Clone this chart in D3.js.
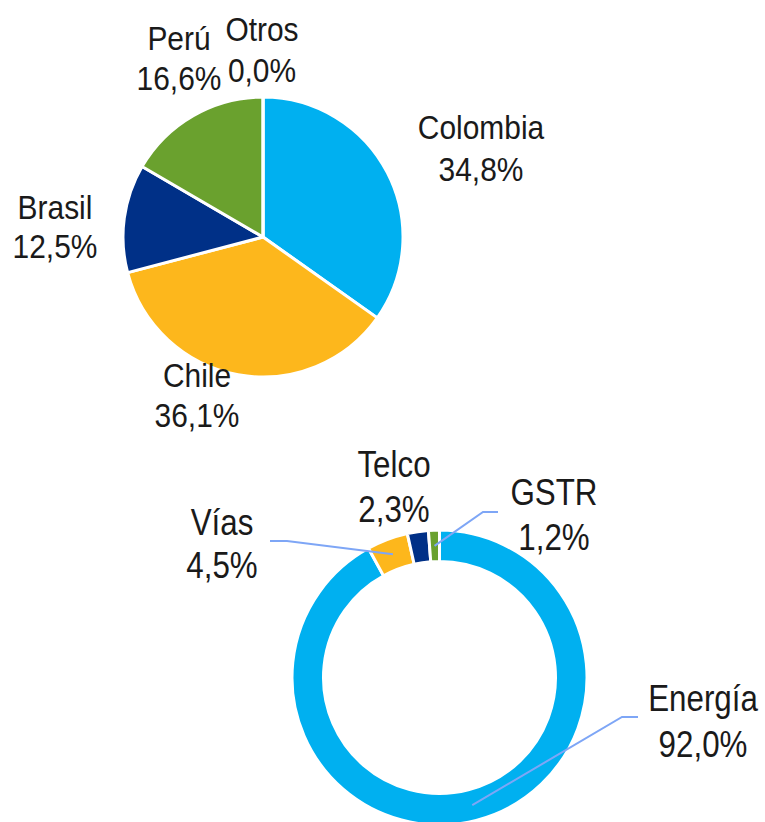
<!DOCTYPE html>
<html>
<head>
<meta charset="utf-8">
<script src="https://cdn.jsdelivr.net/npm/d3@7"></script>
<style>
  html, body { margin: 0; padding: 0; background: #fff; }
  svg text { font-family: "Liberation Sans", Arial, sans-serif; fill: #1a1a1a; }
</style>
</head>
<body>
<div id="chart"></div>
<script>
// ---------------- data ----------------
const countryNames = ["Colombia", "Chile", "Brasil", "Perú", "Otros"];
const countryShares = [34.8, 36.1, 12.5, 16.6, 0.0];
const businessNames = ["Energía", "Vías", "Telco", "GSTR"];
const businessShares = [92.0, 4.5, 2.3, 1.2];
const sliceColors = ["#00B0F0", "#FDB71C", "#003087", "#6AA12E", "#A5A5A5"];

// ---------------- layout ----------------
const W = 765, H = 822;
const pieCenter = [263, 237], pieR = 140;
const ringCenter = [439.5, 677.5], ringOuter = 147.5, ringInner = 116;

// label anchors: [center x, first baseline, line gap]
const countryLabelPos = {
  "Colombia": [481, 139, 42],
  "Chile": [197, 387, 40],
  "Brasil": [55, 219, 39],
  "Perú": [179, 50, 40],
  "Otros": [262, 41, 41]
};
const businessLabelPos = {
  "Energía": [703, 711, 46],
  "Vías": [222, 535, 43],
  "Telco": [394, 477, 45],
  "GSTR": [554, 505, 45]
};
// leader lines: elbow point then end point (none for Telco)
const leaderPts = {
  "Energía": [[622, 717], [638, 717]],
  "Vías": [[287, 541], [270, 541]],
  "GSTR": [[483, 512], [498, 512]]
};

const fmt = v => v.toFixed(1).replace(".", ",") + "%";

const svg = d3.select("#chart").append("svg")
  .attr("width", W).attr("height", H);

const color = d3.scaleOrdinal().domain([0, 1, 2, 3, 4]).range(sliceColors);

function drawLabel(g, x, y, gap, size, sx, lines) {
  const t = g.append("g")
    .attr("transform", `translate(${x},${y}) scale(${sx},1)`);
  lines.forEach((s, k) => {
    t.append("text")
      .attr("x", 0).attr("y", k * gap)
      .attr("text-anchor", "middle")
      .style("font-size", size + "px")
      .text(s);
  });
}

// ---------------- country pie ----------------
const pie = d3.pie().sort(null).value(d => d.v);
const countryData = countryNames.map((n, i) => ({ n, v: countryShares[i], i }));
const arcPie = d3.arc().innerRadius(0).outerRadius(pieR);

const gp = svg.append("g").attr("transform", `translate(${pieCenter})`);
gp.selectAll("path")
  .data(pie(countryData))
  .join("path")
  .attr("d", arcPie)
  .attr("fill", d => color(d.data.i))
  .attr("stroke", "#fff")
  .attr("stroke-width", 3)
  .attr("stroke-linejoin", "round");

countryData.forEach(d => {
  const p = countryLabelPos[d.n];
  drawLabel(svg, p[0], p[1], p[2], 34, 0.88, [d.n, fmt(d.v)]);
});

// ---------------- business donut ----------------
const businessData = businessNames.map((n, i) => ({ n, v: businessShares[i], i }));
const arcRing = d3.arc().innerRadius(ringInner).outerRadius(ringOuter);
const arcMid = d3.arc().innerRadius((ringInner + ringOuter) / 2).outerRadius((ringInner + ringOuter) / 2);

const gr = svg.append("g").attr("transform", `translate(${ringCenter})`);
const ringArcs = pie(businessData);
gr.selectAll("path")
  .data(ringArcs)
  .join("path")
  .attr("d", arcRing)
  .attr("fill", d => color(d.data.i))
  .attr("stroke", "#fff")
  .attr("stroke-width", 3);

// leader lines
ringArcs.forEach(a => {
  const pts = leaderPts[a.data.n];
  if (!pts) return;
  const c = arcMid.centroid(a);
  const start = [ringCenter[0] + c[0], ringCenter[1] + c[1]];
  svg.append("path")
    .attr("d", d3.line()([start, ...pts]))
    .attr("fill", "none")
    .attr("stroke", "#7EA6F6")
    .attr("stroke-width", 2);
});

businessData.forEach(d => {
  const p = businessLabelPos[d.n];
  drawLabel(svg, p[0], p[1], p[2], 36, 0.87, [d.n, fmt(d.v)]);
});
</script>
</body>
</html>
